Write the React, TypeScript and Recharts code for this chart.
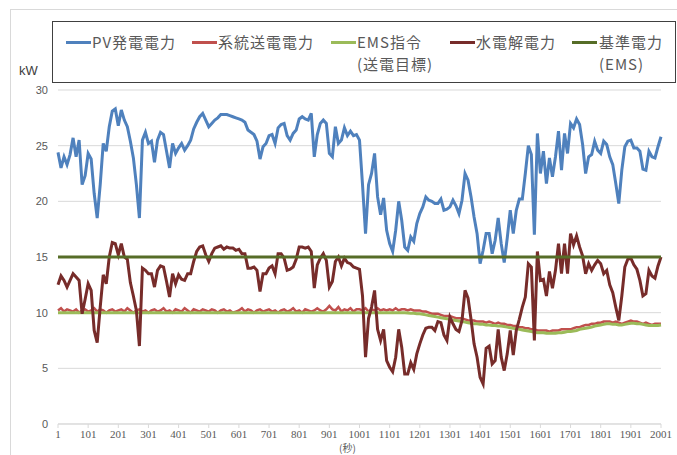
import { LineChart, Line, XAxis, YAxis, CartesianGrid } from "recharts";

// sampled every 10 s, t = 1, 11, 21 ... 2001
const STEP = 10;

const pvPower = [
  24.4, 23.0, 24.0, 23.3, 24.2, 25.7, 24.0, 25.5, 21.5, 22.3,
  24.3, 23.8, 20.7, 18.5, 21.5, 25.2, 24.5, 26.7, 28.1, 28.3,
  26.8, 28.2, 27.3, 26.7, 25.4, 23.9, 21.5, 18.5, 25.5, 26.2,
  25.2, 25.4, 23.5, 25.5, 26.2, 26.0, 24.5, 23.0, 25.2, 24.3,
  24.8, 25.2, 24.6, 25.0, 25.5, 26.5, 27.1, 27.6, 27.9, 27.3,
  26.7, 27.0, 27.3, 27.5, 27.8, 27.8, 27.8, 27.7, 27.6, 27.5,
  27.4, 27.3, 27.1, 26.4, 26.2, 26.0, 25.4, 23.8, 24.9, 25.2,
  25.9, 26.0, 25.2, 26.6, 26.9, 27.0, 25.9, 25.5, 26.1, 26.4,
  27.4, 27.6, 27.4, 27.3, 27.9, 24.0, 26.0, 27.0, 27.3, 27.0,
  24.3, 24.0, 26.7, 25.2, 25.5, 26.6, 25.9, 26.3, 25.9, 26.0,
  25.5, 21.5, 17.1, 21.5, 22.5, 24.3, 20.4, 18.8, 20.3, 17.4,
  16.2, 15.5, 17.4, 20.0, 18.3, 15.9, 15.6, 16.8, 16.4, 18.0,
  18.9, 19.5, 20.4, 20.1, 20.0, 19.8, 19.8, 20.2, 19.2, 19.3,
  19.5, 20.1, 19.6, 18.9, 20.1, 22.5, 21.9, 20.4, 18.6, 17.1,
  14.4, 15.6, 17.1, 17.1, 15.3, 16.5, 18.5, 16.2, 14.5, 16.7,
  19.2, 17.1, 19.2, 20.2, 20.2, 22.5, 25.0, 24.2, 17.0, 26.1,
  22.5, 24.5, 21.6, 23.9, 22.2, 24.0, 26.3, 22.8, 26.1, 24.3,
  27.0, 26.6, 27.4, 26.9, 25.1, 22.5, 24.0, 24.2, 25.4, 24.6,
  24.3, 25.4, 25.1, 24.0, 23.3, 21.6, 19.8, 22.8, 24.9, 25.4,
  25.5, 24.8, 24.8, 24.5, 22.9, 22.8, 24.5, 24.0, 23.9, 24.9,
  25.8,
];

const gridPower = [
  10.2, 10.4, 10.1, 10.3, 10.2, 10.1, 10.3, 10.0, 10.2, 10.3,
  10.1, 10.2, 10.4, 10.1, 10.3, 10.2, 10.0, 10.2, 10.3, 10.1,
  10.2, 10.3, 10.1, 10.4, 10.2, 10.0, 10.2, 10.3, 10.1, 10.2,
  10.0, 10.2, 10.3, 10.1, 10.2, 10.4, 10.1, 10.2, 10.0, 10.3,
  10.2, 10.1, 10.4, 10.2, 10.0, 10.3, 10.2, 10.1, 10.3, 10.2,
  10.1, 10.3, 10.2, 10.0, 10.2, 10.3, 10.1, 10.2, 10.0, 10.1,
  10.2, 10.4, 10.1, 10.3, 10.2, 10.0, 10.2, 10.3, 10.1, 10.2,
  10.3, 10.1, 10.2, 10.0, 10.2, 10.3, 10.1, 10.2, 10.4, 10.1,
  10.2, 10.0, 10.3, 10.2, 10.1, 10.2, 10.4, 10.2, 10.1, 10.3,
  10.6, 10.3, 10.2, 10.5, 10.1, 10.3, 10.2, 10.4, 10.1, 10.3,
  10.3, 10.2, 10.4, 10.1, 10.3, 10.2, 10.4, 10.2, 10.3, 10.2,
  10.3, 10.2, 10.4, 10.2, 10.3, 10.3, 10.2, 10.3, 10.2, 10.2,
  10.2, 10.1, 10.1, 10.0, 9.9, 9.9, 9.9, 9.8, 9.7, 9.7,
  9.7, 9.6, 9.5, 9.5, 9.5, 9.4, 9.3, 9.3, 9.3, 9.2,
  9.2, 9.2, 9.1, 9.2, 9.1, 9.0, 9.1, 9.0, 9.0, 8.9,
  8.9, 8.8, 8.8, 8.7, 8.7, 8.6, 8.6, 8.5, 8.5, 8.4,
  8.4, 8.4, 8.4, 8.3, 8.4, 8.4, 8.4, 8.5, 8.5, 8.5,
  8.5, 8.6, 8.7, 8.7, 8.8, 8.9, 8.9, 9.0, 9.0, 9.1,
  9.1, 9.2, 9.2, 9.2, 9.1, 9.2, 9.1, 9.0, 9.1, 9.2,
  9.3, 9.2, 9.2, 9.1, 9.0, 9.1, 9.0, 8.9, 9.0, 9.0,
  9.0,
];

const emsTarget = [
  10.0, 10.0, 10.0, 10.0, 10.0, 10.0, 10.0, 10.0, 10.0, 10.0,
  10.0, 10.0, 10.0, 10.0, 10.0, 10.0, 10.0, 10.0, 10.0, 10.0,
  10.0, 10.0, 10.0, 10.0, 10.0, 10.0, 10.0, 10.0, 10.0, 10.0,
  10.0, 10.0, 10.0, 10.0, 10.0, 10.0, 10.0, 10.0, 10.0, 10.0,
  10.0, 10.0, 10.0, 10.0, 10.0, 10.0, 10.0, 10.0, 10.0, 10.0,
  10.0, 10.0, 10.0, 10.0, 10.0, 10.0, 10.0, 10.0, 10.0, 10.0,
  10.0, 10.0, 10.0, 10.0, 10.0, 10.0, 10.0, 10.0, 10.0, 10.0,
  10.0, 10.0, 10.0, 10.0, 10.0, 10.0, 10.0, 10.0, 10.0, 10.0,
  10.0, 10.0, 10.0, 10.0, 10.0, 10.0, 10.0, 10.0, 10.0, 10.0,
  10.0, 10.0, 10.0, 10.0, 10.0, 10.0, 10.0, 10.0, 10.0, 10.0,
  10.0, 10.0, 10.0, 10.0, 10.0, 10.0, 10.0, 10.0, 10.0, 10.0,
  10.0, 10.0, 10.0, 10.0, 10.0, 10.0, 9.98, 9.95, 9.95, 9.9,
  9.9, 9.85, 9.8, 9.75, 9.7, 9.65, 9.6, 9.55, 9.5, 9.45,
  9.4, 9.35, 9.3, 9.25, 9.2, 9.15, 9.1, 9.05, 9.0, 9.0,
  8.95, 8.95, 8.9, 8.9, 8.85, 8.85, 8.8, 8.8, 8.75, 8.7,
  8.65, 8.6, 8.55, 8.5, 8.45, 8.4, 8.35, 8.3, 8.25, 8.2,
  8.2, 8.2, 8.15, 8.15, 8.15, 8.15, 8.2, 8.2, 8.25, 8.3,
  8.3, 8.35, 8.4, 8.5, 8.55, 8.6, 8.65, 8.7, 8.8, 8.85,
  8.9, 8.95, 9.0, 9.0, 8.95, 8.95, 8.9, 8.9, 8.95, 9.0,
  9.05, 9.05, 9.0, 9.0, 8.95, 8.9, 8.85, 8.85, 8.85, 8.85,
  8.9,
];

const electrolysis = [
  12.5, 13.3, 12.9, 12.3, 12.9, 13.5, 13.2, 12.9, 9.9, 11.2,
  12.6, 12.0, 8.4, 7.3, 10.5, 13.4, 12.6, 15.0, 16.3, 16.2,
  15.2, 16.2, 15.0, 14.8, 12.7, 11.5, 10.2, 7.0, 14.0, 13.8,
  13.5, 13.5, 12.3, 13.8, 14.2, 14.1, 12.8, 11.4, 13.5, 12.6,
  13.4, 13.0, 12.9, 13.5, 13.5, 14.6, 15.5, 15.9, 16.0, 15.2,
  14.6, 15.3, 15.8, 15.9, 16.0, 15.7, 15.9, 15.8, 15.8, 15.6,
  15.7, 15.3, 15.3, 14.0, 14.0, 14.1, 13.8, 11.9, 13.5, 13.5,
  14.0, 14.2, 13.5, 15.3, 15.3, 14.9, 13.8, 13.9, 14.1, 14.8,
  15.9, 15.9, 15.8, 15.9, 15.5, 12.2, 14.3, 14.9, 15.3, 14.7,
  12.3, 12.8, 14.6, 15.0, 14.2, 14.9, 14.5, 14.4, 14.1, 14.0,
  13.9, 11.5, 6.0, 9.5, 10.5, 12.0, 8.5, 7.5, 8.5, 5.7,
  5.1, 4.7, 6.0, 8.5, 6.9, 4.5, 4.5, 5.5, 4.9, 6.3,
  7.2, 8.0, 8.6, 8.7, 8.7, 8.4, 9.2, 9.1, 8.0, 7.5,
  9.6, 9.0, 8.5, 8.3, 9.3, 12.0, 11.3, 9.4, 7.2, 6.0,
  4.2, 3.6, 6.8, 7.0, 5.4, 5.7, 8.5, 6.0, 4.8, 6.3,
  8.4, 6.2, 8.4, 9.4, 10.5, 11.4, 14.4, 14.1, 7.5, 15.5,
  12.9, 13.0, 11.5, 13.7, 12.2, 13.8, 16.2, 13.5, 16.2, 13.5,
  17.1, 16.1, 16.9, 15.9, 15.1, 13.5, 14.4, 13.8, 14.3, 14.7,
  14.4, 13.5, 13.8, 12.5, 11.8, 10.5, 9.3, 11.5, 14.1, 14.8,
  14.9, 14.3, 13.9, 12.9, 11.5, 11.7, 13.8, 13.3, 13.1, 14.2,
  15.0,
];

// 基準電力 (EMS) is flat over the whole run
const baseTimes = [1, 2001];
const baseValues = [15, 15];

const xTicks = [1, 101, 201, 301, 401, 501, 601, 701, 801, 901, 1001, 1101, 1201, 1301, 1401, 1501, 1601, 1701, 1801, 1901, 2001];
const yTicks = [0, 5, 10, 15, 20, 25, 30];

const data = pvPower.map((pv, i) => ({
  t: 1 + i * STEP,
  pv,
  grid: gridPower[i],
  ems: emsTarget[i],
  h2: electrolysis[i],
}));
const baseData = baseTimes.map((t, i) => ({ t, base: baseValues[i] }));

const C = {
  pv: "#4F81BD",
  grid: "#C0504D",
  ems: "#9BBB59",
  h2: "#772C2A",
  base: "#566D27",
};

const legendItems = [
  { key: "pv", lineX: 66, textX: 92, lines: ["PV発電電力"] },
  { key: "grid", lineX: 192, textX: 218, lines: ["系統送電電力"] },
  { key: "ems", lineX: 331, textX: 357, lines: ["EMS指令", "(送電目標)"] },
  { key: "h2", lineX: 450, textX: 476, lines: ["水電解電力"] },
  { key: "base", lineX: 572, textX: 599, lines: ["基準電力", "(EMS)"] },
];

const jp = '"Noto Sans CJK JP", "Noto Sans", sans-serif';

export default function App() {
  return (
    <div style={{ position: "absolute", left: 0, top: 0, width: 677, height: 455, background: "#fff", overflow: "hidden" }}>
      <div style={{ position: "absolute", left: 10, top: 9, width: 700, height: 500, border: "1px solid #d9d9d9" }} />

      <div style={{ position: "absolute", left: 0, top: 0 }}>
        <LineChart width={677} height={455} data={data} margin={{ top: 90, right: 16, bottom: 0, left: 18 }}>
          <CartesianGrid vertical={false} stroke="#d9d9d9" />
          <XAxis
            dataKey="t"
            type="number"
            domain={[1, 2001]}
            ticks={xTicks}
            interval={0}
            height={31}
            stroke="#d9d9d9"
            tickSize={4}
            tickMargin={2}
            tick={{ fill: "#595959", fontSize: 11, fontFamily: '"Liberation Serif", serif' }}
          />
          <YAxis
            domain={[0, 30]}
            ticks={yTicks}
            width={40}
            axisLine={false}
            tickLine={false}
            tickSize={0}
            tickMargin={10}
            tick={{ fill: "#595959", fontSize: 11, fontFamily: '"Liberation Sans", sans-serif' }}
          />
          <Line dataKey="pv" stroke={C.pv} strokeWidth={3} dot={false} isAnimationActive={false} />
          <Line dataKey="grid" stroke={C.grid} strokeWidth={2.5} dot={false} isAnimationActive={false} />
          <Line dataKey="ems" stroke={C.ems} strokeWidth={3} dot={false} isAnimationActive={false} />
          <Line dataKey="h2" stroke={C.h2} strokeWidth={3} dot={false} isAnimationActive={false} />
          <Line data={baseData} dataKey="base" stroke={C.base} strokeWidth={3} dot={false} isAnimationActive={false} />
        </LineChart>
      </div>

      {/* legend box */}
      <div style={{ position: "absolute", left: 52, top: 21, width: 622, height: 60, border: "1px solid #404040" }} />
      {legendItems.map((it) => (
        <div key={it.key}>
          <div style={{ position: "absolute", left: it.lineX, top: 41, width: 25, height: 3, background: C[it.key as keyof typeof C] }} />
          {it.lines.map((s, j) => (
            <div
              key={j}
              style={{
                position: "absolute",
                left: it.textX,
                top: 31 + j * 22,
                fontFamily: jp,
                fontSize: 15,
                lineHeight: "22px",
                color: "#595959",
                whiteSpace: "nowrap",
                letterSpacing: 1,
              }}
            >
              {s}
            </div>
          ))}
        </div>
      ))}

      <div style={{ position: "absolute", left: 19, top: 63, fontFamily: '"Liberation Sans", sans-serif', fontSize: 13, color: "#404040" }}>kW</div>
      <div style={{ position: "absolute", left: 339, top: 442, fontFamily: jp, fontSize: 10, color: "#595959", lineHeight: "12px" }}>(秒)</div>
    </div>
  );
}
